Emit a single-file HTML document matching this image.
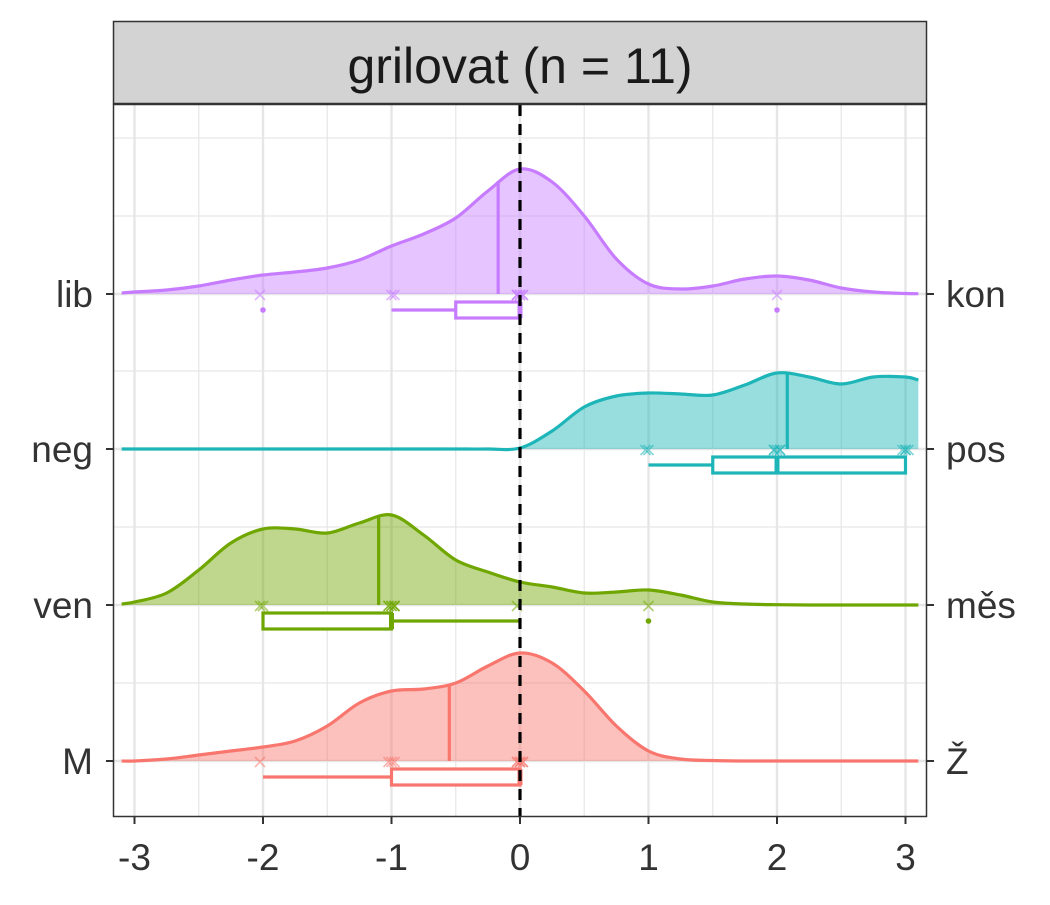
<!DOCTYPE html>
<html><head><meta charset="utf-8">
<style>
html,body{margin:0;padding:0;background:#fff;}
svg text{font-family:"Liberation Sans",Arial,sans-serif;}
</style></head>
<body>
<svg id="chart" width="1050" height="900" viewBox="0 0 1050 900" xmlns="http://www.w3.org/2000/svg">
<rect x="0" y="0" width="1050" height="900" fill="#fff"/>
<g id="grid"></g>
<g id="marks"></g>
<rect x="113.5" y="104.5" width="813" height="712" fill="none" stroke="#333" stroke-width="1.5"/>
<rect x="113.5" y="21.5" width="813" height="82" fill="#d3d3d3" stroke="#333" stroke-width="1.5"/>
<text x="520" y="83" font-size="50" text-anchor="middle" fill="#1a1a1a">grilovat (n = 11)</text>
<g id="axes"></g>
</svg>
<script>
const xGrid = [-3.1,-3,-2.75,-2.5,-2.25,-2,-1.75,-1.5,-1.25,-1,-0.75,-0.5,-0.25,0,0.25,0.5,0.75,1,1.25,1.5,1.75,2,2.25,2.5,2.75,3,3.1];
const leftLabels = ["lib","neg","ven","M"];
const rightLabels = ["kon","pos","měs","Ž"];
const colors = ["#C77CFF","#1DB5B8","#6FA600","#F8766D"];
const densLib = [1,2,4,8,14,19,22,26,34,48,60,76,103,125,112,78,35,10,5,8,15,18,14,6,2,0.5,0.3];
const densNeg = [0,0,0,0,0,0,0,0,0,0,0,0,0,1,18,42,53,56,55,54,64,76,72,65,72,72,69];
const densVen = [1,3,12,35,62,76,76,72,82,90,70,45,33,23,18,12,13,15,10,3,1,0.3,0,0,0,0,0];
const densM = [0,0,2,6,10,14,20,35,58,70,72,78,95,108,98,70,35,10,2,0.5,0,0,0,0,0,0,0];
const medians = [-0.17,2.08,-1.1,-0.55];
const medianHeights = [113,76,88,76];
const ptsLib = [-2,-1,-1,0,0,0,0,0,0,0,2];
const ptsNeg = [1,1,2,2,2,2,2,3,3,3,3];
const ptsVen = [-2,-2,-1,-1,-1,-1,-1,-1,-1,0,1];
const ptsM = [-2,-1,-1,-1,0,0,0,0,0,0,0];
const boxQ1 = [-0.5,1.5,-2,-1];
const boxMed = [0,2,-1,0];
const boxQ3 = [0,3,-1,0];
const whiskLo = [-1,1,-2,-2];
const whiskHi = [0,3,0,0];
const outliers = [[-2,2],[],[1],[]];
const xTicks = [-3,-2,-1,0,1,2,3];

const NS="http://www.w3.org/2000/svg";
const X = v => 520 + v*128.5;
const baselines = [294,449,605,761];
const dens = [densLib,densNeg,densVen,densM];
const pts = [ptsLib,ptsNeg,ptsVen,ptsM];
function mk(tag,attrs,parent){const e=document.createElementNS(NS,tag);for(const k in attrs)e.setAttribute(k,attrs[k]);parent.appendChild(e);return e;}
const grid=document.getElementById('grid'), marks=document.getElementById('marks'), axes=document.getElementById('axes');
for(let v=-3;v<=3.01;v+=0.5){
  const l=mk('line',{x1:X(v),x2:X(v),y1:105,y2:816,stroke:'#e6e6e6','stroke-width':Number.isInteger(v)?2.4:1.2},grid);
  
  
}
[138,216,371,527,683].forEach(y=>{const l=mk('line',{x1:114,x2:926,y1:y,y2:y,stroke:'#e6e6e6','stroke-width':1.2},grid);
  
  });
baselines.forEach(y=>{const l=mk('line',{x1:114,x2:926,y1:y,y2:y,stroke:'#e6e6e6','stroke-width':2.4},grid);
  
  });
function smoothPath(p){let d=`M${p[0][0]},${p[0][1]}`;for(let i=0;i<p.length-1;i++){const p0=p[Math.max(i-1,0)],p1=p[i],p2=p[i+1],p3=p[Math.min(i+2,p.length-1)];
 d+=` C${p1[0]+(p2[0]-p0[0])/6},${p1[1]+(p2[1]-p0[1])/6} ${p2[0]-(p3[0]-p1[0])/6},${p2[1]-(p3[1]-p1[1])/6} ${p2[0]},${p2[1]}`;}return d;}
for(let r=0;r<4;r++){
  const b=baselines[r], c=colors[r];
  const p=xGrid.map((v,i)=>[X(v),b-dens[r][i]]);
  const line=smoothPath(p);
  const area=mk('path',{d:line+` L${X(xGrid[xGrid.length-1])},${b} L${X(xGrid[0])},${b} Z`,fill:c,'fill-opacity':0.45},marks);
  
  
  const ln=mk('path',{d:line,fill:'none',stroke:c,'stroke-width':3.2},marks);
  
  
  const md=mk('line',{x1:X(medians[r]),x2:X(medians[r]),y1:b,y2:b-medianHeights[r],stroke:c,'stroke-width':3.2},marks);
  
  
  pts[r].forEach((v,i)=>{const jx=X(v)+((i%3)-1)*3, s=5;
    const t=mk('path',{d:`M${jx-s},${b-s+1}L${jx+s},${b+s+1}M${jx+s},${b-s+1}L${jx-s},${b+s+1}`,stroke:c,'stroke-width':1.6,'stroke-opacity':0.55,fill:'none'},marks);
    
    });
  const by=b+16;
  const w1=mk('line',{x1:X(whiskLo[r]),x2:X(boxQ1[r]),y1:by,y2:by,stroke:c,'stroke-width':3.2},marks);
  
  
  const w2=mk('line',{x1:X(boxQ3[r]),x2:X(whiskHi[r]),y1:by,y2:by,stroke:c,'stroke-width':3.2},marks);
  
  
  const bx=mk('rect',{x:X(boxQ1[r]),y:by-8,width:Math.max(X(boxQ3[r])-X(boxQ1[r]),1),height:16,fill:'#fff',stroke:c,'stroke-width':3.2},marks);
  
  
  const bm=mk('line',{x1:X(boxMed[r]),x2:X(boxMed[r]),y1:by-8,y2:by+8,stroke:c,'stroke-width':5},marks);
  
  
  outliers[r].forEach(v=>{const o=mk('circle',{cx:X(v),cy:by,r:2.8,fill:c},marks);
    
    });
}
const z=mk('line',{x1:X(0),x2:X(0),y1:105,y2:816,stroke:'#000','stroke-width':3.2,'stroke-dasharray':'11,8'},marks);


baselines.forEach((b,r)=>{
  mk('line',{x1:106,x2:113,y1:b,y2:b,stroke:'#333','stroke-width':2},axes);
  mk('line',{x1:927,x2:934,y1:b,y2:b,stroke:'#333','stroke-width':2},axes);
  const t1=mk('text',{x:93,y:b+13,'font-size':37,'text-anchor':'end',fill:'#333'},axes);t1.textContent=leftLabels[r];
  
  
  const t2=mk('text',{x:946,y:b+13,'font-size':37,'text-anchor':'start',fill:'#333'},axes);t2.textContent=rightLabels[r];
  
  
});
xTicks.forEach(v=>{
  mk('line',{x1:X(v),x2:X(v),y1:817,y2:824,stroke:'#333','stroke-width':2},axes);
  const t=mk('text',{x:X(v),y:870,'font-size':37,'text-anchor':'middle',fill:'#333'},axes);t.textContent=v;
  
  
});
</script>
</body></html>
